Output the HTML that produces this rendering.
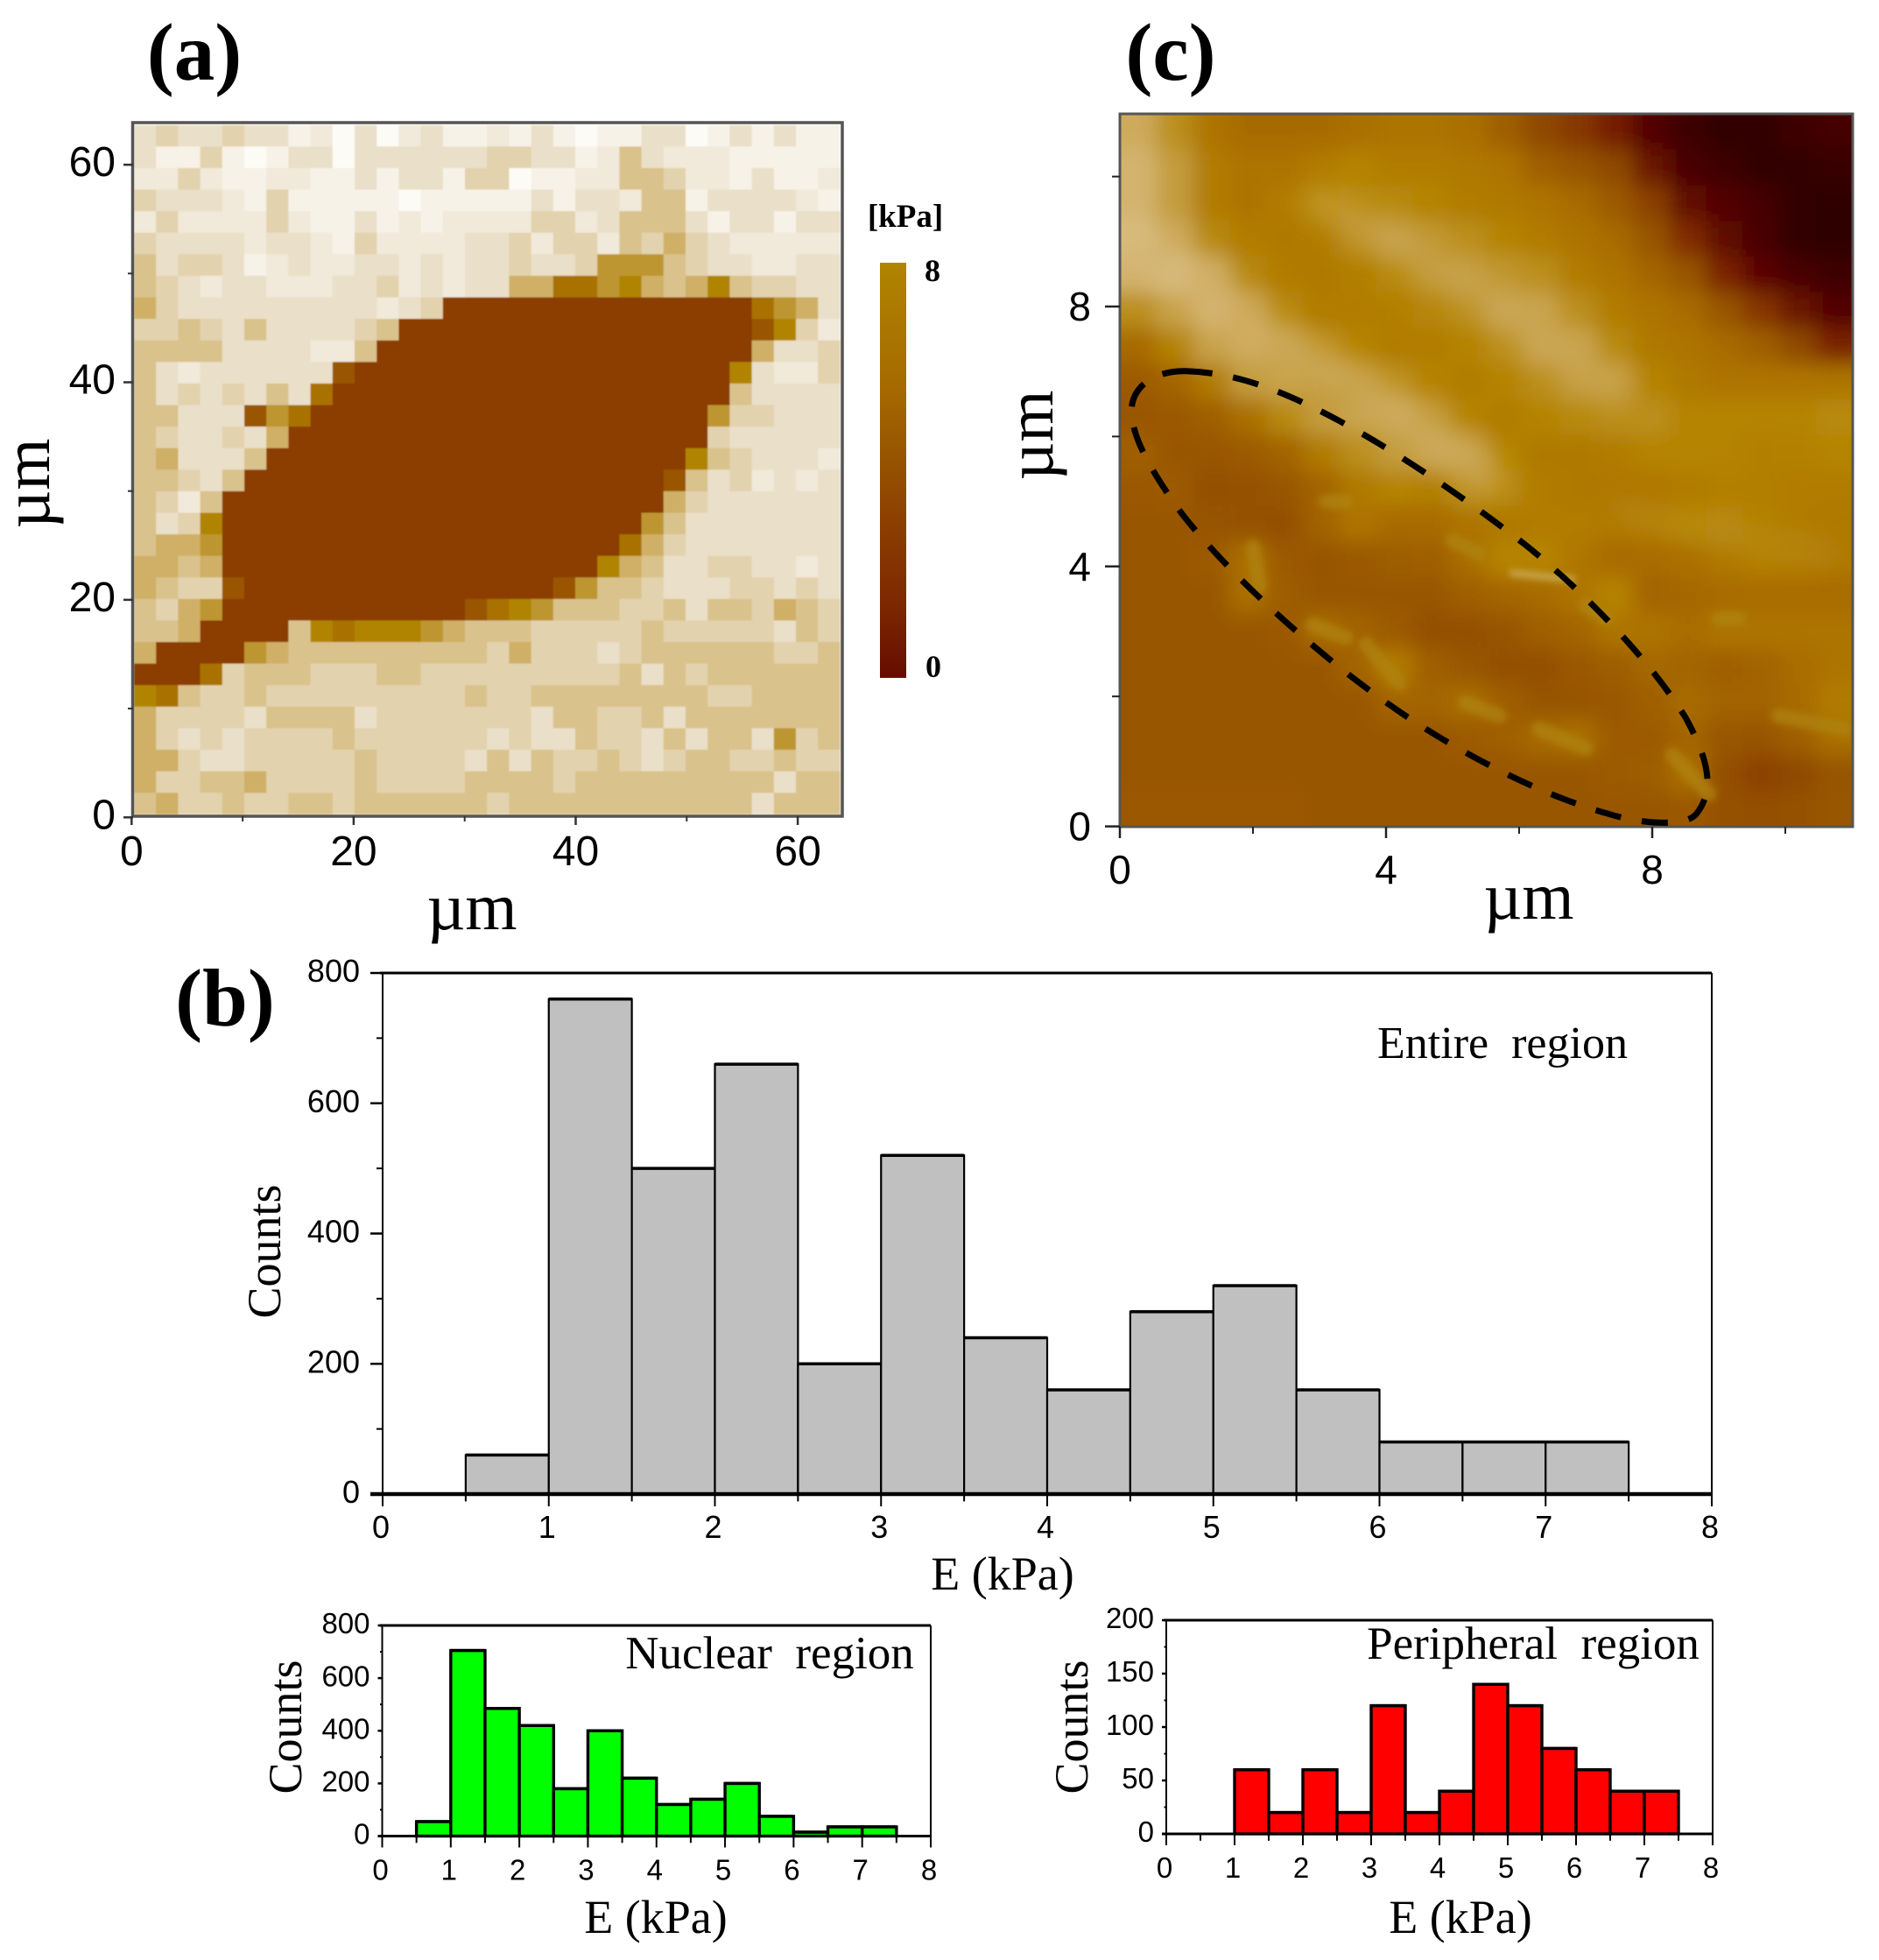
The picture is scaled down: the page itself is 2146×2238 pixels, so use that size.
<!DOCTYPE html>
<html lang="en">
<head>
<meta charset="utf-8">
<title>AFM elasticity map, histograms and topography</title>
<style>
html,body{margin:0;padding:0;background:#fff;}
svg{display:block;}
text{fill:#000;}
.sans{font-family:"Liberation Sans",sans-serif;}
.serif{font-family:"Liberation Serif",serif;}
</style>
</head>
<body>
<svg id="fig" xmlns="http://www.w3.org/2000/svg" width="2146" height="2238" viewBox="0 0 2146 2238">
  <defs>
    <linearGradient id="cbar" x1="0" y1="0" x2="0" y2="1">
      <stop offset="0" stop-color="#b08400"/>
      <stop offset="0.3" stop-color="#a56a00"/>
      <stop offset="0.62" stop-color="#8c4000"/>
      <stop offset="0.85" stop-color="#7a2400"/>
      <stop offset="1" stop-color="#650c00"/>
    </linearGradient>
    <clipPath id="cClip"><rect x="1279" y="130" width="837" height="814"/></clipPath>
    <filter id="cBlur" filterUnits="userSpaceOnUse" x="1150" y="0" width="1100" height="1080">
      <feGaussianBlur stdDeviation="12"/>
    </filter>
    <filter id="ridgeBlur" filterUnits="userSpaceOnUse" x="1150" y="0" width="1100" height="1080">
      <feGaussianBlur stdDeviation="15"/>
    </filter>
    <filter id="streakBlur" filterUnits="userSpaceOnUse" x="1150" y="0" width="1100" height="1080">
      <feGaussianBlur stdDeviation="4"/>
    </filter>
    <filter id="mapBlur" filterUnits="userSpaceOnUse" x="140" y="130" width="840" height="820">
      <feGaussianBlur stdDeviation="0.8"/>
    </filter>
  </defs>
  <rect x="0" y="0" width="2146" height="2238" fill="#fff"/>

  <text class="serif" font-weight="bold" font-size="93" x="222" y="91" text-anchor="middle">(a)</text>
  <text class="serif" font-weight="bold" font-size="93" x="1337" y="91" text-anchor="middle">(c)</text>
  <text class="serif" font-weight="bold" font-size="93" x="257" y="1171" text-anchor="middle">(b)</text>

  <g id="panelA">
    <g id="aCells" filter="url(#mapBlur)"></g>
  </g>
  <g id="panelC">
    <g clip-path="url(#cClip)">
      <g id="cImage" filter="url(#cBlur)"></g>
      <g id="cRidges" filter="url(#ridgeBlur)"></g>
      <g id="cStreaks" filter="url(#streakBlur)"></g>
    </g>
  </g>
  <path transform="translate(1279 128) scale(.541 .5263)" vector-effect="non-scaling-stroke" fill="none" stroke="#000" stroke-width="7" stroke-dasharray="30 24"
    d="M140,562 C240,565 330,600 430,652 C560,720 720,830 855,938 C980,1040 1120,1190 1195,1315 C1240,1400 1260,1470 1215,1525 C1190,1550 1100,1545 1030,1522 C880,1480 700,1380 575,1290 C400,1165 220,990 130,870 C70,785 20,700 25,640 C30,590 80,560 140,562 Z"/>

  <rect x="1005" y="300" width="30" height="474" fill="url(#cbar)"/>
  <text class="serif" font-weight="bold" font-size="37" x="1034" y="259" text-anchor="middle">[kPa]</text>
  <text class="serif" font-weight="bold" font-size="36" x="1065" y="321" text-anchor="middle">8</text>
  <text class="serif" font-weight="bold" font-size="36" x="1066" y="773" text-anchor="middle">0</text>

  <text class="serif" font-size="76" x="539" y="1061" text-anchor="middle">µm</text>
  <text class="serif" font-size="76" transform="translate(56 552) rotate(-90)" text-anchor="middle">µm</text>
  <text class="serif" font-size="76" x="1746" y="1049" text-anchor="middle">µm</text>
  <text class="serif" font-size="76" transform="translate(1202 497) rotate(-90)" text-anchor="middle">µm</text>

  <g id="histEntire"></g>
  <g id="histNuclear"></g>
  <g id="histPeripheral"></g>

  <text class="serif" font-size="52" x="1716" y="1208" text-anchor="middle" xml:space="preserve">Entire  region</text>
  <text class="serif" font-size="54" x="1145" y="1815" text-anchor="middle">E (kPa)</text>
  <text class="serif" font-size="54" transform="translate(320 1429) rotate(-90)" text-anchor="middle">Counts</text>

  <text class="serif" font-size="53" x="879" y="1905" text-anchor="middle" xml:space="preserve">Nuclear  region</text>
  <text class="serif" font-size="54" x="749" y="2207" text-anchor="middle">E (kPa)</text>
  <text class="serif" font-size="54" transform="translate(344 1972) rotate(-90)" text-anchor="middle">Counts</text>

  <text class="serif" font-size="53" x="1751" y="1894" text-anchor="middle" xml:space="preserve">Peripheral  region</text>
  <text class="serif" font-size="54" x="1668" y="2207" text-anchor="middle">E (kPa)</text>
  <text class="serif" font-size="54" transform="translate(1242 1972) rotate(-90)" text-anchor="middle">Counts</text>
</svg>

<script>
// ---------- Panel (a): stiffness map levels, top row first ----------
const stiffnessRows = [
[8,7,8,8,7,8,8,10,9,11,8,11,9,8,10,10,9,10,8,10,11,10,10,8,8,11,10,8,10,8,10,10],
[8,10,10,7,10,11,10,8,8,11,8,8,8,8,8,8,7,7,8,8,10,9,6,8,9,9,9,10,10,10,10,10],
[9,9,7,9,10,10,9,9,10,10,8,10,8,8,10,7,7,11,10,10,9,9,6,6,7,9,9,10,8,10,10,9],
[7,8,8,8,9,10,7,10,10,10,10,10,11,10,10,10,10,10,8,10,8,8,9,6,6,10,8,8,8,8,9,10],
[9,7,9,9,9,9,7,9,10,10,8,10,9,10,9,9,9,9,7,7,9,8,6,6,6,8,10,8,8,10,8,8],
[7,8,8,8,8,9,8,8,9,10,7,9,9,9,9,8,8,7,9,7,7,9,6,7,5,7,8,9,9,9,9,9],
[6,8,7,7,8,10,9,8,9,9,8,8,9,8,9,8,8,7,8,8,7,4,4,4,6,7,8,8,9,9,8,8],
[6,7,8,9,8,8,9,9,9,8,8,7,9,8,9,8,8,5,5,2,2,4,3,5,6,5,3,6,7,7,8,8],
[5,7,8,8,8,8,8,8,8,8,8,9,8,7,0,0,0,0,0,0,0,0,0,0,0,0,0,0,2,4,5,8],
[7,7,6,7,8,6,8,8,8,8,7,6,0,0,0,0,0,0,0,0,0,0,0,0,0,0,0,0,1,3,7,9],
[6,6,6,6,8,8,8,8,9,9,6,0,0,0,0,0,0,0,0,0,0,0,0,0,0,0,0,0,5,8,8,7],
[6,8,9,8,8,8,8,8,8,1,0,0,0,0,0,0,0,0,0,0,0,0,0,0,0,0,0,3,8,9,9,7],
[6,8,7,8,7,8,6,8,2,0,0,0,0,0,0,0,0,0,0,0,0,0,0,0,0,0,0,6,8,8,8,8],
[6,6,8,8,8,1,4,2,0,0,0,0,0,0,0,0,0,0,0,0,0,0,0,0,0,0,4,7,7,8,8,8],
[6,7,8,8,7,8,5,0,0,0,0,0,0,0,0,0,0,0,0,0,0,0,0,0,0,0,7,8,8,8,8,8],
[6,5,8,8,8,6,0,0,0,0,0,0,0,0,0,0,0,0,0,0,0,0,0,0,0,3,6,7,8,8,8,9],
[6,6,7,8,6,0,0,0,0,0,0,0,0,0,0,0,0,0,0,0,0,0,0,0,1,6,8,7,9,8,9,8],
[6,7,9,6,0,0,0,0,0,0,0,0,0,0,0,0,0,0,0,0,0,0,0,0,5,7,8,8,8,8,8,8],
[6,8,7,3,0,0,0,0,0,0,0,0,0,0,0,0,0,0,0,0,0,0,0,4,6,8,8,8,8,8,8,8],
[6,5,5,4,0,0,0,0,0,0,0,0,0,0,0,0,0,0,0,0,0,0,2,5,7,8,8,8,8,8,8,8],
[5,5,6,5,0,0,0,0,0,0,0,0,0,0,0,0,0,0,0,0,0,3,5,6,8,8,7,7,8,8,9,8],
[5,6,7,7,1,0,0,0,0,0,0,0,0,0,0,0,0,0,0,1,4,6,6,7,8,8,8,7,7,8,7,8],
[6,7,5,4,0,0,0,0,0,0,0,0,0,0,0,1,2,3,4,6,6,6,7,7,6,8,6,6,7,5,6,7],
[6,6,5,0,0,0,0,6,3,2,3,3,3,4,5,6,6,6,7,7,7,7,7,6,7,7,7,7,7,8,6,7],
[5,0,0,0,0,4,5,6,6,6,6,6,6,6,6,6,7,5,7,7,7,8,7,6,6,6,6,6,6,7,7,6],
[0,0,0,2,7,6,6,6,7,7,7,6,6,7,7,7,7,7,7,7,7,7,6,8,6,7,6,6,6,6,6,6],
[3,2,6,7,7,6,7,7,7,7,7,7,7,7,7,6,7,7,6,6,6,6,6,6,6,6,7,7,6,6,6,6],
[5,7,7,7,7,8,6,6,6,6,8,7,7,7,7,7,7,7,8,6,6,7,7,6,8,6,6,6,6,6,6,6],
[5,7,8,7,8,7,7,7,7,6,7,7,7,7,7,7,8,7,8,8,6,7,7,8,6,8,6,6,8,4,7,6],
[5,5,7,8,8,7,7,7,7,7,6,7,7,7,7,8,6,8,6,7,7,6,7,8,7,6,6,7,7,6,7,7],
[5,7,7,6,6,5,7,7,7,7,6,7,7,7,7,6,6,6,6,7,6,6,6,6,6,6,6,6,6,8,6,6],
[6,5,7,7,6,7,7,6,6,7,6,6,6,6,6,6,7,6,6,6,6,6,6,6,6,6,6,6,8,6,6,6]
];
const stiffnessPalette = ['#8c3e00','#9a5500','#a97200','#b18400','#bd9632','#cfb066','#dac28c','#e3d2ae','#eadfc8','#f1e9d9','#f7f2e8','#fdfbf6'];
const mapMajorTicks = [0,20,40,60];
const mapMinorTicks = [10,30,50];

// ---------- Panel (c): topography heights, top row first ----------
const heightRows = [
[9,7,5,4.5,4.5,4.5,4.8,5,5,4.8,4,3,2.6,1.8,.8,.3,.1,.1,.3,.5],
[9.5,8,5.5,5,5,5.5,6,5.5,5.5,5.3,5,4,3.5,3,1.5,.6,.3,.1,.1,.2],
[9.5,8,5.5,5,5.5,6.2,6.5,6.5,6,5.5,5.3,5,4.5,3.8,2.8,1.2,.8,.5,.1,0],
[10,9,6.5,5.5,5.3,5.5,7,8,7.5,7,6,5.5,5,4.5,3.5,2.3,1.1,.6,.1,0],
[9.5,10,9,6.5,5.5,5.3,5.7,6.5,7.5,8,7.5,7,5.5,5,4.3,3.5,2,1,.6,.3],
[7,8.5,9.5,8.5,6.5,5.5,5.5,5.7,6.3,7,8.5,8.5,7,5.5,5,4.5,3.5,2.5,1.5,.8],
[4.5,6,8.5,9,8,7,6,5.5,5.5,6,7,8.5,8.5,6.5,5.3,5,4.5,4,3,2],
[3.8,4.3,5.5,8,8.5,8,7.5,7,6,5.5,6,7,8,8,6,5.3,5,5,5,5],
[3.6,3.7,4,4.8,6.5,8,8.5,8.5,7.5,6,5.5,6,6.5,7,7,6,6,6,6,6.5],
[4,3.6,3.6,3.8,4.2,5.5,7,8,8.5,8,6,5.3,5.3,5.5,6,6,6,5.7,5.8,6],
[3.7,3.8,3.3,3.4,3.6,4.2,5.3,6,5.8,7,6.5,5.5,5.3,5.2,5.2,5.5,5.7,5.7,5.5,5.5],
[3.6,3.6,3.5,3.4,3.3,4.2,5,4.5,4.5,5,5.3,5.5,5.5,5.3,5.5,6,6.3,5.8,5.5,5.3],
[3.6,3.6,3.8,4.8,3.8,3.5,3.7,3.9,4,4.7,6,6,5.2,4.5,4.6,4.8,5.3,5.7,5.5,5.2],
[3.6,3.6,3.6,4.8,3.9,3.6,3.6,3.6,3.6,4,4.3,4.5,5,6,4.2,4.4,4.5,4.6,4.6,4.6],
[3.6,3.6,3.6,3.6,3.7,4.6,4.2,3.8,3.3,3.3,3.5,4,4.3,5,5,4.6,5,5,5,5],
[3.6,3.6,3.6,3.6,3.6,3.6,4.3,5.5,4,3.6,3.3,3.3,3.7,3.9,4.4,4.3,4,4.2,4.6,5],
[3.6,3.6,3.6,3.6,3.6,3.6,3.6,4.3,4.3,4.7,4,3.5,3.5,3.7,4,4.5,4.2,4.2,4.5,5.5],
[3.6,3.6,3.6,3.6,3.6,3.6,3.6,3.6,3.6,3.8,4,4.5,4.8,3.8,3.8,4.3,3.6,3.5,4,4.8],
[3.6,3.6,3.6,3.6,3.6,3.6,3.6,3.6,3.6,3.6,3.6,3.6,3.6,3.8,3.9,4.8,3.3,2.8,3,3.5],
[3.7,3.7,3.7,3.7,3.7,3.6,3.6,3.6,3.6,3.6,3.6,3.6,3.6,3.6,3.6,3.7,3.4,3.3,3.4,3.6]
];
const heightPalette = ['#2e0000','#5c0400','#7a2000','#8f4800','#a05f00','#ad7400','#b58400','#bb8f1e','#c49c3c','#cdaa5c','#d8bd80'];
const topoMajorTicks = [0,4,8];
const topoMinorTicks = [2,6,10];
// ridge centre-lines and surface streaks, in µm (x, y pairs)
const brightRidgeOne = [0.1,8.9, 1.1,8.5, 2.1,7.6, 3.6,6.8, 4.6,6.1, 5.5,5.4];
const brightRidgeTwo = [3,9.6, 4.3,8.9, 5.7,8, 6.4,7.4, 7.4,6.8];
const faintRidge = [7.5,4.9, 8.9,4.5, 10.7,4.2];
const surfaceStreaks = [
  [3.7,2.8, 4.2,2.2], [8.3,1.1, 8.85,.5], [5,4.4, 5.4,4.2], [3.1,5, 3.4,5],
  [2,4.3, 2.1,3.7], [6.3,1.5, 7,1.2], [5.2,1.9, 5.7,1.7], [2.9,3.1, 3.4,2.9],
  [7,3.4, 7.3,3.2], [9,3.2, 9.3,3.2], [9.9,1.7, 10.9,1.5]
];
const fineStreaks = [[5.9,3.9, 6.8,3.8]];

// ---------- Panel (b): histograms ----------
const entireBinStarts = [0.5,1,1.5,2,2.5,3,3.5,4,4.5,5,5.5,6,6.5,7];
const entireCounts = [60,760,500,660,200,520,240,160,280,320,160,80,80,80];
const nuclearBinStarts = [0.5,1,1.5,2,2.5,3,3.5,4,4.5,5,5.5,6,6.5,7];
const nuclearCounts = [55,705,485,420,180,400,220,120,140,200,75,15,35,35];
const peripheralBinStarts = [1,1.5,2,2.5,3,3.5,4,4.5,5,5.5,6,6.5,7];
const peripheralCounts = [60,20,60,20,120,20,40,140,120,80,60,40,40];
const modulusTicks = [0,1,2,3,4,5,6,7,8];
const entireYTicks = [0,200,400,600,800];
const nuclearYTicks = [0,200,400,600,800];
const peripheralYTicks = [0,50,100,150,200];

const NS = 'http://www.w3.org/2000/svg';
function mk(parent, tag, attrs, txt) {
  const el = document.createElementNS(NS, tag);
  for (const k in attrs) el.setAttribute(k, attrs[k]);
  if (txt !== undefined) el.textContent = txt;
  parent.appendChild(el);
  return el;
}
function mixHex(a, b, t) {
  const pa = [1,3,5].map(function(i){return parseInt(a.substr(i,2),16);});
  const pb = [1,3,5].map(function(i){return parseInt(b.substr(i,2),16);});
  return 'rgb(' + pa.map(function(v,i){return Math.round(v + (pb[i]-v)*t);}).join(',') + ')';
}
function heightColor(v) {
  const i = Math.min(heightPalette.length - 2, Math.floor(v));
  return mixHex(heightPalette[i], heightPalette[i+1], v - i);
}

// ---------- draw panel (a) ----------
(function () {
  const g = document.getElementById('panelA');
  const cells = document.getElementById('aCells');
  const left = 153, top = 142.7, cw = 25.2, ch = 24.6;
  const xScale = function (v) { return 150.3 + v * 12.68; };
  const yScale = function (v) { return 933.3 - v * 12.42; };
  stiffnessRows.forEach(function (row, r) {
    row.forEach(function (level, c) {
      const cell = mk(cells, 'rect', {x: left + c * cw, y: top + r * ch, width: cw + 0.4, height: ch + 0.4, fill: stiffnessPalette[level]});
      
      
    });
  });
  const frame = mk(g, 'rect', {x: 151.5, y: 140, width: 810.5, height: 792, fill: 'none', stroke: '#555', 'stroke-width': 3.5});
  
  
  mapMajorTicks.forEach(function (t) {
    const x = xScale(t), y = yScale(t);
    const tx = mk(g, 'line', {x1: x, x2: x, y1: 932, y2: 942, stroke: '#333', 'stroke-width': 2.5});
    
    
    const ty = mk(g, 'line', {x1: 141, x2: 152, y1: y, y2: y, stroke: '#333', 'stroke-width': 2.5});
    
    
    const lx = mk(g, 'text', {x: x, y: 988, 'text-anchor': 'middle', 'font-size': 48, class: 'sans'}, t);
    
    
    const ly = mk(g, 'text', {x: 132, y: y + 13, 'text-anchor': 'end', 'font-size': 48, class: 'sans'}, t);
    
    
  });
  mapMinorTicks.forEach(function (t) {
    const x = xScale(t), y = yScale(t);
    const tx = mk(g, 'line', {x1: x, x2: x, y1: 932, y2: 938, stroke: '#333', 'stroke-width': 2});
    
    
    const ty = mk(g, 'line', {x1: 146, x2: 152, y1: y, y2: y, stroke: '#333', 'stroke-width': 2});
    
    
  });
})();

// ---------- draw panel (c) ----------
(function () {
  const g = document.getElementById('panelC');
  const img = document.getElementById('cImage');
  const ridges = document.getElementById('cRidges');
  const streaks = document.getElementById('cStreaks');
  const left = 1279, top = 130, w = 837, h = 814;
  const nR = heightRows.length, nC = heightRows[0].length;
  const cw = w / nC, ch = h / nR, pad = 60;
  const xScale = function (v) { return 1279 + v * 76; };
  const yScale = function (v) { return 943.6 - v * 74.2; };
  function linePath(p) {
    let d = '';
    for (let i = 0; i < p.length; i += 2) d += (i ? 'L' : 'M') + xScale(p[i]) + ',' + yScale(p[i + 1]);
    return d;
  }
  heightRows.forEach(function (row, r) {
    row.forEach(function (v, c) {
      const x0 = left + c * cw - (c === 0 ? pad : 0);
      const x1 = left + (c + 1) * cw + (c === nC - 1 ? pad : 0) + 0.5;
      const y0 = top + r * ch - (r === 0 ? pad : 0);
      const y1 = top + (r + 1) * ch + (r === nR - 1 ? pad : 0) + 0.5;
      const cell = mk(img, 'rect', {x: x0, y: y0, width: x1 - x0, height: y1 - y0, fill: heightColor(v)});
      
      
    });
  });
  const r1 = mk(ridges, 'path', {d: linePath(brightRidgeOne), fill: 'none', stroke: '#d4b470', 'stroke-width': 40, 'stroke-opacity': 0.5, 'stroke-linecap': 'round', 'stroke-linejoin': 'round'});
  
  
  const r2 = mk(ridges, 'path', {d: linePath(brightRidgeTwo), fill: 'none', stroke: '#cdaa5c', 'stroke-width': 34, 'stroke-opacity': 0.5, 'stroke-linecap': 'round', 'stroke-linejoin': 'round'});
  
  
  const r3 = mk(ridges, 'path', {d: linePath(faintRidge), fill: 'none', stroke: '#bb8f1e', 'stroke-width': 22, 'stroke-opacity': 0.6, 'stroke-linecap': 'round', 'stroke-linejoin': 'round'});
  
  
  surfaceStreaks.forEach(function (p) {
    const s = mk(streaks, 'path', {d: linePath(p), fill: 'none', stroke: '#b08410', 'stroke-width': 17, 'stroke-opacity': 0.7, 'stroke-linecap': 'round'});
    
    
  });
  fineStreaks.forEach(function (p) {
    const s = mk(streaks, 'path', {d: linePath(p), fill: 'none', stroke: '#c8a650', 'stroke-width': 8, 'stroke-linecap': 'round'});
    
    
  });
  const frame = mk(g, 'rect', {x: 1279, y: 130, width: 837, height: 814, fill: 'none', stroke: '#555', 'stroke-width': 3});
  
  
  topoMajorTicks.forEach(function (t) {
    const x = xScale(t), y = yScale(t);
    const tx = mk(g, 'line', {x1: x, x2: x, y1: 944, y2: 957, stroke: '#222', 'stroke-width': 2.5});
    
    
    const ty = mk(g, 'line', {x1: 1262, x2: 1279, y1: y, y2: y, stroke: '#222', 'stroke-width': 2.5});
    
    
    const lx = mk(g, 'text', {x: x, y: 1009, 'text-anchor': 'middle', 'font-size': 46, class: 'sans'}, t);
    
    
    const ly = mk(g, 'text', {x: 1246, y: y + 16, 'text-anchor': 'end', 'font-size': 46, class: 'sans'}, t);
    
    
  });
  topoMinorTicks.forEach(function (t) {
    const x = xScale(t), y = yScale(t);
    const tx = mk(g, 'line', {x1: x, x2: x, y1: 944, y2: 952, stroke: '#222', 'stroke-width': 2});
    
    
    const ty = mk(g, 'line', {x1: 1270, x2: 1279, y1: y, y2: y, stroke: '#222', 'stroke-width': 2});
    
    
  });
})();

// ---------- draw histograms ----------
function drawHist(g, box, starts, counts, yTicks, fill, opt) {
  const xScale = function (v) { return box.left + (v / 8) * (box.right - box.left); };
  const yMax = yTicks[yTicks.length - 1];
  const yScale = function (v) { return box.bottom - (v / yMax) * (box.bottom - box.top); };
  starts.forEach(function (s, i) {
    const x0 = xScale(s), x1 = xScale(s + 0.5), y = yScale(counts[i]);
    const bar = mk(g, 'rect', {x: x0, y: y, width: x1 - x0, height: box.bottom - y, fill: fill, stroke: '#000', 'stroke-width': opt.bar});
    
    
    const cap = mk(g, 'line', {x1: x0, x2: x1, y1: y, y2: y, stroke: '#000', 'stroke-width': opt.cap});
    
    
  });
  const top = mk(g, 'line', {x1: box.left - 3, x2: box.right, y1: box.top, y2: box.top, stroke: '#000', 'stroke-width': 3});
  
  
  const right = mk(g, 'line', {x1: box.right, x2: box.right, y1: box.top, y2: box.bottom, stroke: '#000', 'stroke-width': 2});
  
  
  const leftAxis = mk(g, 'line', {x1: box.left, x2: box.left, y1: box.top, y2: box.bottom, stroke: '#000', 'stroke-width': 2});
  
  
  const bottom = mk(g, 'line', {x1: box.left - opt.tickY, x2: box.right, y1: box.bottom, y2: box.bottom, stroke: '#000', 'stroke-width': opt.base});
  
  
  modulusTicks.forEach(function (t) {
    const x = xScale(t);
    const tick = mk(g, 'line', {x1: x, x2: x, y1: box.bottom, y2: box.bottom + opt.tickX, stroke: '#000', 'stroke-width': 2});
    
    
    const label = mk(g, 'text', {x: x - 2, y: box.bottom + opt.labelX, 'text-anchor': 'middle', 'font-size': opt.font, class: 'sans'}, t);
    
    
    if (t < 8) {
      const mx = xScale(t + 0.5);
      const minor = mk(g, 'line', {x1: mx, x2: mx, y1: box.bottom, y2: box.bottom + opt.tickX * 0.6, stroke: '#000', 'stroke-width': 2});
      
      
    }
  });
  yTicks.forEach(function (t, i) {
    const y = yScale(t);
    const tick = mk(g, 'line', {x1: box.left - opt.tickY, x2: box.left, y1: y, y2: y, stroke: '#000', 'stroke-width': 2.5});
    
    
    const label = mk(g, 'text', {x: box.left - opt.tickY - opt.gap, y: y + opt.font * 0.28, 'text-anchor': 'end', 'font-size': opt.font, class: 'sans'}, t);
    
    
    if (i < yTicks.length - 1) {
      const my = yScale((t + yTicks[i + 1]) / 2);
      const minor = mk(g, 'line', {x1: box.left - opt.tickY * 0.5, x2: box.left, y1: my, y2: my, stroke: '#000', 'stroke-width': 2});
      
      
    }
  });
}
drawHist(document.getElementById('histEntire'), {left: 437, right: 1955, top: 1111, bottom: 1706}, entireBinStarts, entireCounts, entireYTicks, '#c0c0c0', {bar: 2.2, cap: 3.5, base: 4.5, tickX: 14, tickY: 14, gap: 12, labelX: 50, font: 36});
drawHist(document.getElementById('histNuclear'), {left: 436.5, right: 1063, top: 1856, bottom: 2096.5}, nuclearBinStarts, nuclearCounts, nuclearYTicks, '#00ff00', {bar: 3.4, cap: 3.4, base: 3, tickX: 13, tickY: 5, gap: 9, labelX: 50, font: 33});
drawHist(document.getElementById('histPeripheral'), {left: 1332, right: 1956, top: 1850, bottom: 2094}, peripheralBinStarts, peripheralCounts, peripheralYTicks, '#ff0000', {bar: 3.4, cap: 3.4, base: 3, tickX: 13, tickY: 5, gap: 9, labelX: 50, font: 33});
</script>
</body>
</html>
